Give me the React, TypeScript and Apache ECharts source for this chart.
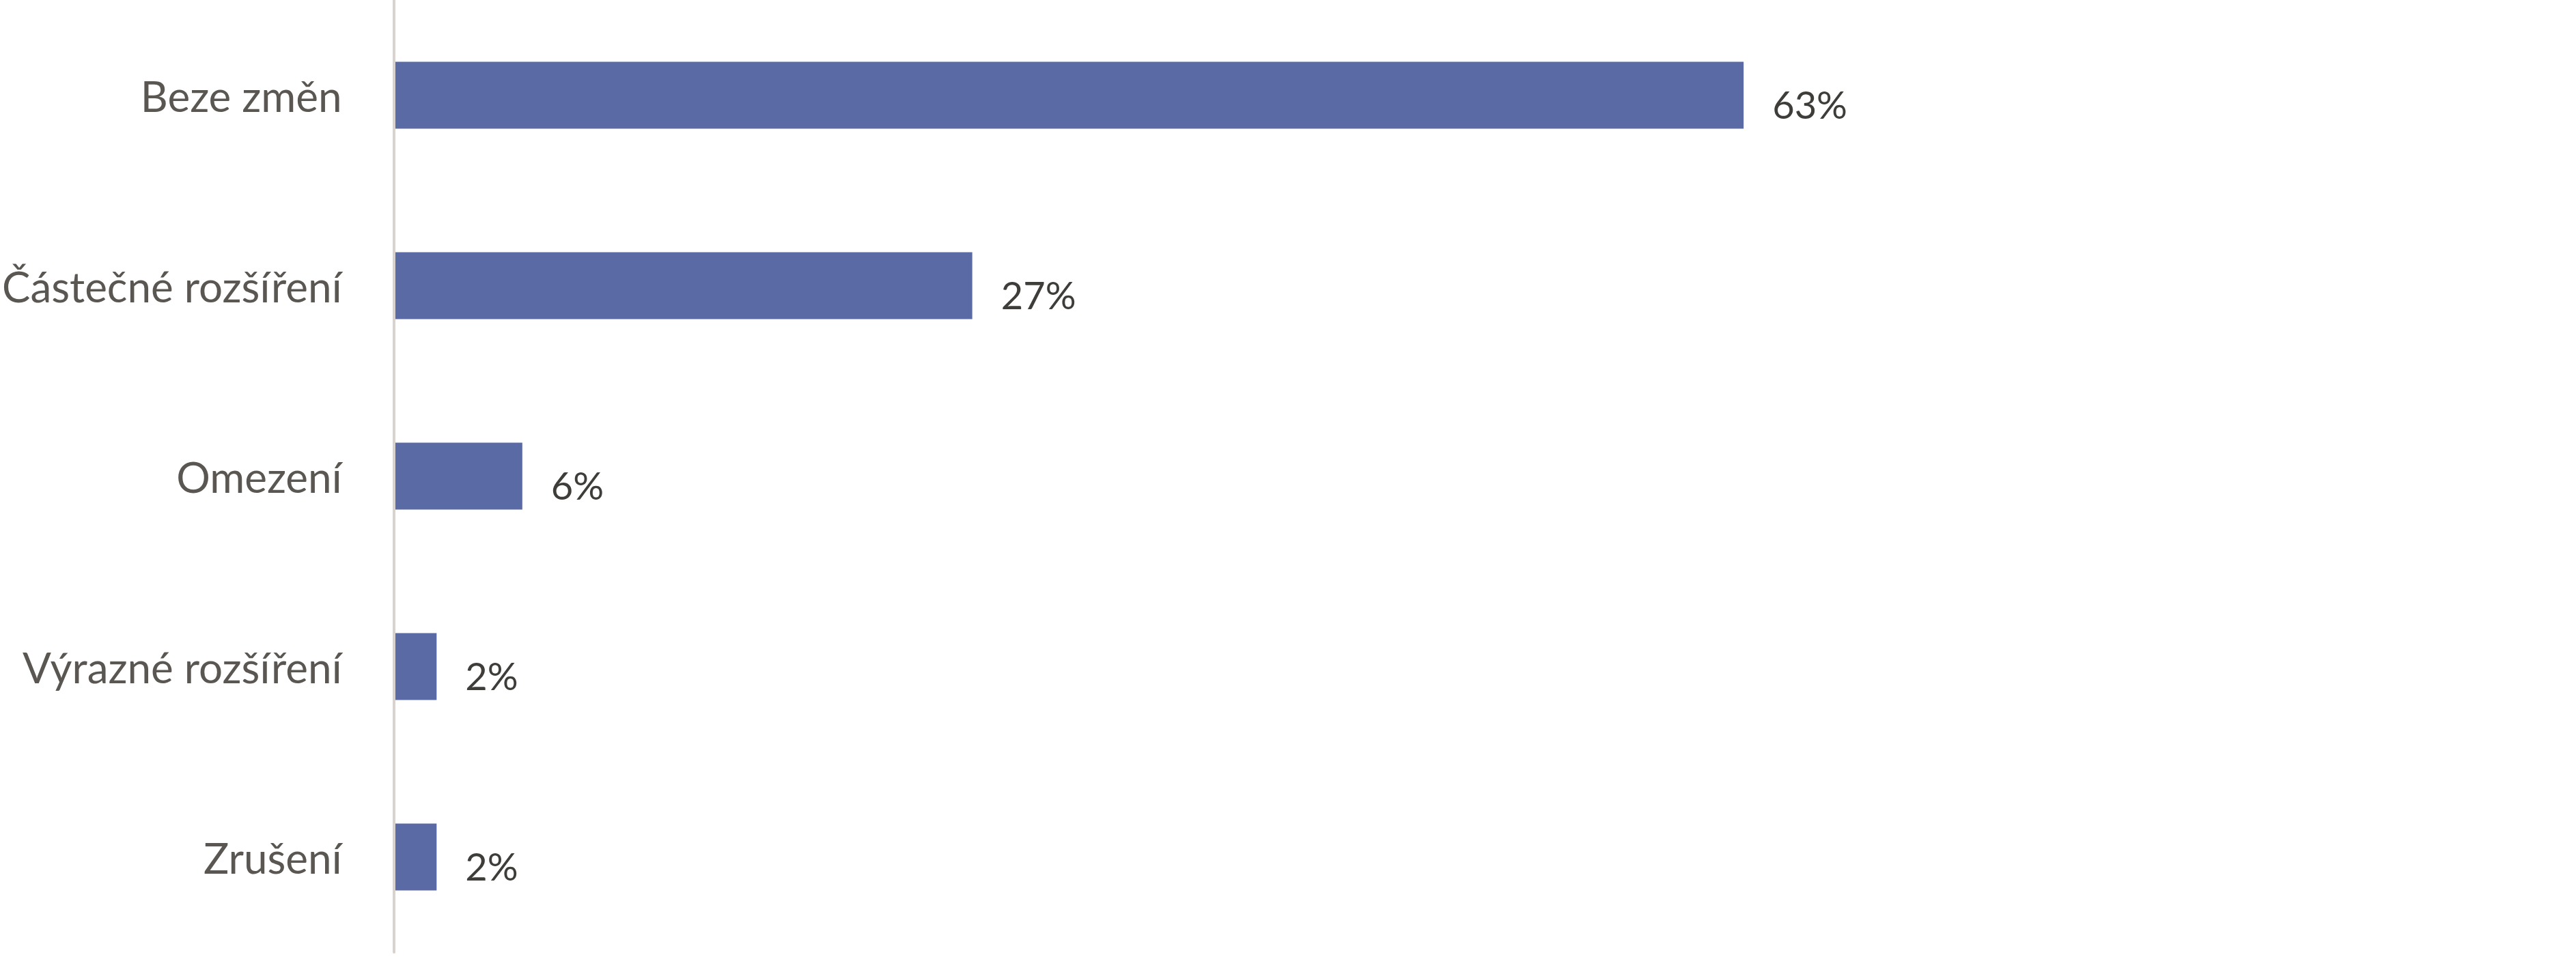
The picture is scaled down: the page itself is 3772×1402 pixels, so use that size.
import React, { useEffect, useRef } from "react";
import * as echarts from "echarts";

const categories = ["Beze změn", "Částečné rozšíření", "Omezení", "Výrazné rozšíření", "Zrušení"];
const values = [63, 27, 6, 2, 2];

export default function App() {
  const ref = useRef<HTMLDivElement>(null);
  useEffect(() => {
    if (!ref.current) return;
    const chart = echarts.init(ref.current, null, { renderer: "svg" });
    chart.setOption({
      animation: false,
      backgroundColor: "#ffffff",
      grid: { left: 574, right: 58, top: 0, bottom: 7, containLabel: false },
      xAxis: {
        type: "value",
        min: 0,
        max: 100,
        show: false,
        splitLine: { show: false },
      },
      yAxis: {
        type: "category",
        data: categories,
        inverse: true,
        z: 5,
        axisLine: { show: true, lineStyle: { color: "#D9D3CF", width: 4 } },
        axisTick: { show: false },
        splitLine: { show: false },
        axisLabel: {
          margin: 76,
          fontFamily: "Lato",
          fontSize: 62,
          color: "#5A5753",
          padding: [44, 0, 0, 0],
        },
      },
      series: [
        {
          type: "bar",
          data: values,
          barWidth: 98,
          itemStyle: { color: "#5A6AA4" },
          label: {
            show: true,
            position: "right",
            distance: 42,
            offset: [0, 13],
            formatter: "{c}%",
            fontFamily: "Lato",
            fontSize: 56,
            color: "#3F3D3A",
          },
        },
      ],
    });
    return () => chart.dispose();
  }, []);
  return (
    <div
      ref={ref}
      style={{ position: "absolute", left: 0, top: 0, width: 3772, height: 1402 }}
    />
  );
}
